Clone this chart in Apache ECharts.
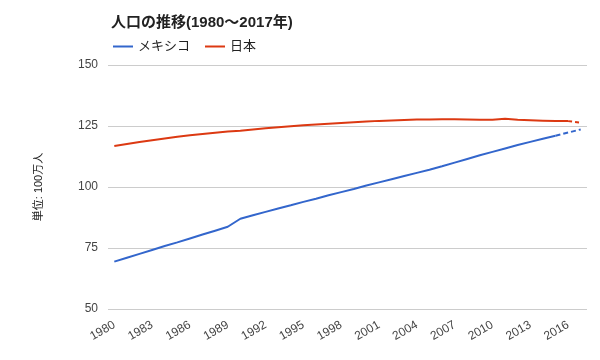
<!DOCTYPE html>
<html>
<head>
<meta charset="utf-8">
<script src="https://cdn.jsdelivr.net/npm/echarts@6/dist/echarts.min.js"></script>
<style>
  html, body { margin: 0; padding: 0; background: #fff; }
  #chart { width: 600px; height: 360px; }
</style>
</head>
<body>
<div id="chart"></div>
<script>
// years 1980..2017
const years = [];
for (let y = 1980; y <= 2017; y++) years.push(String(y));

// population, millions
const mexico = [
  69.4, 71.0, 72.6, 74.2, 75.8, 77.3, 78.9, 80.5, 82.1, 83.7,
  87.0, 88.4, 89.8, 91.2, 92.5, 93.9, 95.2, 96.6, 97.9, 99.2,
  100.6, 101.9, 103.2, 104.5, 105.8, 107.1, 108.5, 110.0, 111.5, 113.0,
  114.4, 115.8, 117.2, 118.5, 119.8, 121.0, 122.3, 123.6
];
const japan = [
  116.8, 117.6, 118.4, 119.2, 119.9, 120.6, 121.2, 121.7, 122.2, 122.7,
  123.1, 123.6, 124.1, 124.5, 124.9, 125.3, 125.6, 125.9, 126.2, 126.5,
  126.8, 127.1, 127.3, 127.5, 127.7, 127.7, 127.8, 127.8, 127.7, 127.6,
  127.6, 128.0, 127.6, 127.4, 127.2, 127.0, 127.0, 126.4
];
const yTicks = [50, 75, 100, 125, 150];

// index where the dashed (estimate) part starts
const mexicoDashFrom = 35;
const japanDashFrom = 36;

const solidPart = (arr, k) => arr.map((v, i) => (i <= k ? v : null));
const dashPart = (arr, k) => arr.map((v, i) => (i >= k ? v : null));

const font = "'Liberation Sans', Arial, 'Noto Sans CJK JP', sans-serif";
const blue = "#3366cc";
const red = "#dc3912";

const chart = echarts.init(document.getElementById("chart"));
chart.setOption({
  backgroundColor: "#fff",
  animation: false,
  textStyle: { fontFamily: font },
  title: {
    text: "人口の推移(1980〜2017年)",
    left: 106,
    top: 10,
    textStyle: { fontSize: 15, fontWeight: "bold", color: "#222", fontFamily: font },
  },
  legend: {
    data: ["メキシコ", "日本"],
    left: 108,
    top: 35,
    icon: "rect",
    itemWidth: 20,
    itemHeight: 2,
    itemGap: 15,
    textStyle: { fontSize: 13, color: "#222", fontFamily: font },
  },
  grid: {
    left: 108,
    right: 13,
    top: 65,
    bottom: 51,
  },
  xAxis: {
    type: "category",
    data: years,
    boundaryGap: true,
    axisLine: { show: false },
    axisTick: { show: false },
    axisLabel: {
      interval: 2,
      rotate: 30,
      margin: 15,
      fontSize: 12,
      color: "#444",
      fontFamily: font,
    },
  },
  yAxis: {
    type: "value",
    min: yTicks[0],
    max: yTicks[yTicks.length - 1],
    interval: 25,
    name: "単位: 100万人",
    nameLocation: "middle",
    nameRotate: 90,
    nameGap: 64,
    nameTextStyle: { fontSize: 11, color: "#222", fontFamily: font },
    axisLine: { show: false },
    axisTick: { show: false },
    axisLabel: { fontSize: 12, color: "#444", margin: 10, fontFamily: font },
    splitLine: { lineStyle: { color: "#cccccc", width: 1 } },
  },
  series: [
    {
      name: "メキシコ",
      type: "line",
      data: solidPart(mexico, mexicoDashFrom),
      symbol: "none",
      itemStyle: { color: blue },
      lineStyle: { color: blue, width: 2 },
    },
    {
      name: "メキシコ",
      type: "line",
      data: dashPart(mexico, mexicoDashFrom),
      symbol: "none",
      itemStyle: { color: blue },
      lineStyle: { color: blue, width: 2, type: [5, 3] },
    },
    {
      name: "日本",
      type: "line",
      data: solidPart(japan, japanDashFrom),
      symbol: "none",
      itemStyle: { color: red },
      lineStyle: { color: red, width: 2 },
    },
    {
      name: "日本",
      type: "line",
      data: dashPart(japan, japanDashFrom),
      symbol: "none",
      itemStyle: { color: red },
      lineStyle: { color: red, width: 2, type: [4, 3] },
    },
  ],
});
</script>
</body>
</html>
